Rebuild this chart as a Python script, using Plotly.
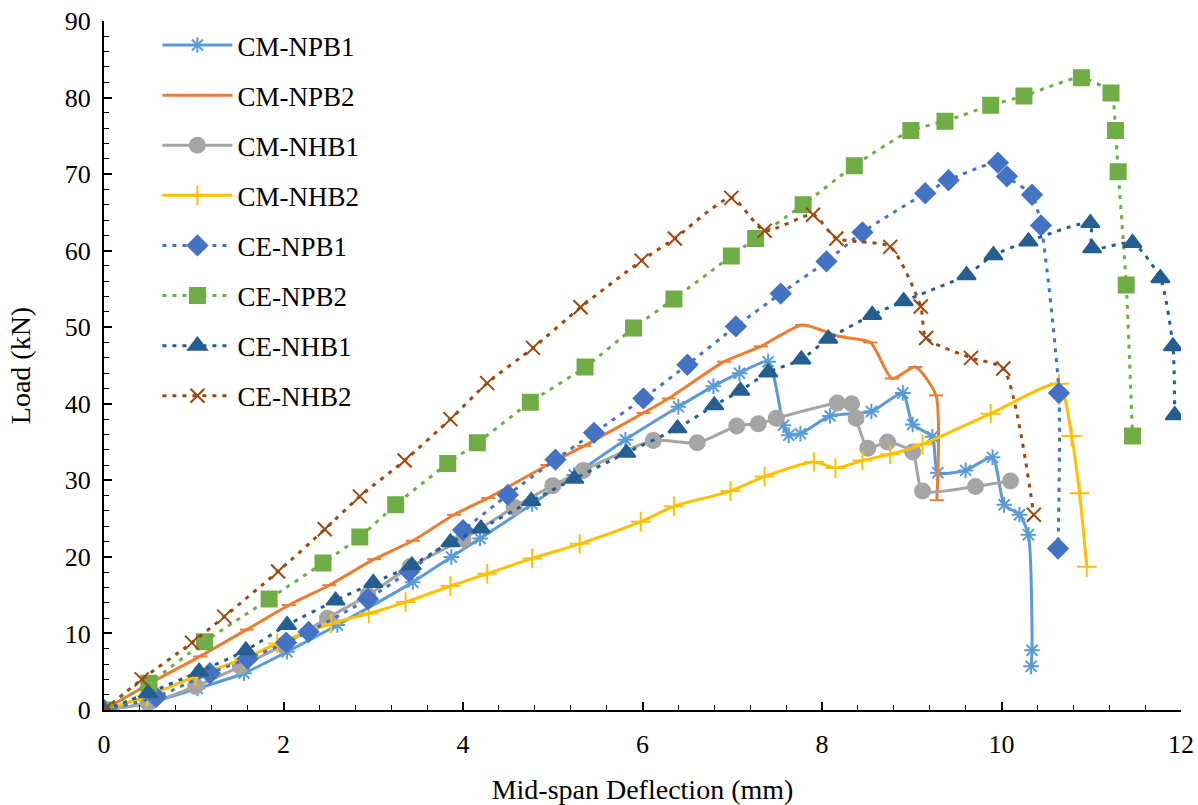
import plotly.graph_objects as go

# ---- data (deflection mm, load kN) ----
cm_npb1_x = [0, 0.50, 1.04, 1.56, 2.04, 2.60, 3.44, 3.87, 4.19, 4.77, 5.24, 5.81, 6.40, 6.79, 7.08, 7.40, 7.57, 7.63, 7.76, 8.09, 8.55, 8.90, 9.01, 9.23, 9.29, 9.60, 9.90, 10.03, 10.20, 10.30, 10.34, 10.33]
cm_npb1_y = [0, 0.9, 2.8, 4.8, 7.6, 11.1, 16.7, 20.0, 22.4, 26.9, 30.7, 35.3, 39.6, 42.3, 44.0, 45.5, 37.2, 35.9, 36.1, 38.4, 39.0, 41.4, 37.3, 35.7, 31.0, 31.3, 33.0, 26.8, 25.5, 22.9, 7.8, 5.7]

cm_npb2_x = [0, 0.50, 1.07, 1.59, 2.06, 2.51, 3.01, 3.44, 3.90, 4.28, 4.94, 5.35, 6.01, 6.29, 6.91, 7.32, 7.78, 8.19, 8.54, 8.78, 9.04, 9.27, 9.28]
cm_npb2_y = [0, 3.4, 7.0, 10.5, 13.7, 16.3, 19.7, 22.1, 25.5, 27.7, 32.0, 34.5, 38.8, 40.7, 45.5, 47.5, 50.3, 48.8, 48.0, 43.3, 44.8, 41.1, 27.4]

cm_nhb1_x = [0, 0.49, 1.02, 1.52, 2.00, 2.49, 2.94, 3.41, 4.00, 4.57, 5.00, 5.34, 6.12, 6.61, 7.05, 7.29, 7.49, 8.17, 8.33, 8.38, 8.51, 8.73, 9.01, 9.12, 9.71, 10.10]
cm_nhb1_y = [0, 0.9, 3.1, 5.7, 8.5, 12.0, 15.0, 18.7, 22.3, 26.5, 29.3, 31.3, 35.2, 34.9, 37.1, 37.4, 38.1, 40.1, 40.0, 38.1, 34.2, 35.0, 33.7, 28.6, 29.2, 29.9]

cm_nhb2_x = [0, 0.48, 1.02, 1.56, 1.93, 2.53, 2.95, 3.36, 3.86, 4.27, 4.77, 5.30, 5.98, 6.35, 6.98, 7.36, 7.91, 8.15, 8.45, 8.76, 9.12, 9.88, 10.64, 10.78, 10.87, 10.95]
cm_nhb2_y = [0, 1.8, 4.4, 6.7, 8.7, 11.3, 12.6, 14.1, 16.2, 17.8, 19.8, 21.7, 24.6, 26.6, 28.6, 30.5, 32.4, 31.6, 32.6, 33.4, 34.7, 38.7, 42.6, 35.8, 28.3, 18.7]

ce_npb1_x = [0, 0.58, 1.18, 1.60, 2.03, 2.28, 2.94, 3.40, 4.00, 4.50, 5.03, 5.46, 6.01, 6.50, 7.04, 7.54, 8.05, 8.45, 9.15, 9.41, 9.96, 10.06, 10.34, 10.44, 10.64, 10.63]
ce_npb1_y = [0, 1.7, 4.8, 6.7, 8.8, 10.2, 14.5, 18.1, 23.5, 28.1, 32.7, 36.2, 40.7, 45.1, 50.1, 54.4, 58.6, 62.4, 67.5, 69.2, 71.5, 69.7, 67.3, 63.3, 41.4, 21.1]

ce_npb2_x = [0, 0.50, 1.12, 1.84, 2.44, 2.85, 3.25, 3.83, 4.16, 4.75, 5.36, 5.90, 6.35, 6.99, 7.26, 7.79, 8.36, 8.99, 9.37, 9.88, 10.25, 10.89, 11.22, 11.27, 11.30, 11.39, 11.46]
ce_npb2_y = [0, 3.5, 8.9, 14.5, 19.2, 22.6, 26.8, 32.2, 34.9, 40.2, 44.8, 49.9, 53.7, 59.3, 61.6, 66.0, 71.1, 75.7, 76.9, 79.0, 80.2, 82.6, 80.6, 75.7, 70.3, 55.5, 35.8]

ce_nhb1_x = [0, 0.49, 1.06, 1.58, 2.04, 2.58, 3.00, 3.43, 3.86, 4.20, 4.76, 5.24, 5.82, 6.39, 6.80, 7.09, 7.40, 7.77, 8.07, 8.56, 8.91, 9.61, 9.91, 10.30, 10.99, 11.01, 11.46, 11.77, 11.91, 11.93]
ce_nhb1_y = [0, 2.2, 5.0, 7.8, 11.1, 14.3, 16.6, 18.9, 21.9, 23.7, 27.3, 30.2, 33.6, 36.8, 39.8, 41.7, 44.1, 45.8, 48.5, 51.6, 53.4, 56.8, 59.4, 61.2, 63.6, 60.3, 61.0, 56.4, 47.5, 38.5]

ce_nhb2_x = [0, 0.42, 0.98, 1.34, 1.94, 2.46, 2.85, 3.35, 3.86, 4.27, 4.78, 5.31, 5.99, 6.36, 6.99, 7.36, 7.90, 8.16, 8.76, 9.10, 9.16, 9.66, 10.02, 10.36]
ce_nhb2_y = [0, 4.0, 8.8, 12.2, 18.1, 23.6, 27.9, 32.6, 38.0, 42.7, 47.3, 52.6, 58.7, 61.6, 66.9, 62.6, 64.7, 61.6, 60.5, 52.7, 48.6, 46.0, 44.6, 25.5]

DOT = "4px,6px"
series = [
    ("CM-NPB1", cm_npb1_x, cm_npb1_y, "#5B9BD5", "solid", "asterisk-open", 13),
    ("CM-NPB2", cm_npb2_x, cm_npb2_y, "#ED7D31", "solid", "line-ew-open", 10),
    ("CM-NHB1", cm_nhb1_x, cm_nhb1_y, "#A5A5A5", "solid", "circle", 15),
    ("CM-NHB2", cm_nhb2_x, cm_nhb2_y, "#FFC000", "solid", "cross-thin-open", 14),
    ("CE-NPB1", ce_npb1_x, ce_npb1_y, "#4472C4", DOT, "diamond", 15),
    ("CE-NPB2", ce_npb2_x, ce_npb2_y, "#70AD47", DOT, "square", 15),
    ("CE-NHB1", ce_nhb1_x, ce_nhb1_y, "#255E91", DOT, "triangle-up", 16),
    ("CE-NHB2", ce_nhb2_x, ce_nhb2_y, "#9E480E", DOT, "x-thin-open", 14),
]

fig = go.Figure()
for i, (name, xs, ys, col, dash, sym, sz) in enumerate(series):
    fig.add_trace(go.Scatter(
        x=xs, y=ys, name=name, mode="lines+markers", legendgroup=f"g{i}",
        line=dict(color=col, width=3, dash=dash, shape="spline", smoothing=0.6),
        marker=dict(symbol=sym, size=sz, color=col, line=dict(color=col, width=2)),
    ))

font_family = "'Liberation Serif', 'Times New Roman', Times, 'DejaVu Serif', serif"
fig.update_layout(
    width=1198, height=805,
    paper_bgcolor="white", plot_bgcolor="white",
    margin=dict(l=104, r=17, t=21, b=95, autoexpand=False),
    font=dict(family=font_family, size=26, color="black"),
    showlegend=True,
    legend=dict(x=0.0496, y=1.0, xanchor="left", yanchor="top",
                font=dict(family=font_family, size=27, color="black"),
                itemwidth=70, tracegroupgap=12, bgcolor="rgba(0,0,0,0)"),
)
fig.update_xaxes(
    range=[0, 12], dtick=2, tick0=0, showgrid=False, zeroline=False,
    showline=True, linecolor="black", linewidth=2, automargin=False,
    ticks="inside", ticklen=8, tickwidth=1.5, tickcolor="black",
    minor=dict(dtick=0.4, ticks="inside", ticklen=5, tickwidth=1, tickcolor="black"),
    tickfont=dict(family=font_family, size=26), ticklabeloverflow="allow",
    ticklabelstandoff=10,
    title=dict(text="Mid-span Deflection (mm)", font=dict(family=font_family, size=28), standoff=31),
)
fig.update_yaxes(
    range=[0, 90], dtick=10, tick0=0, showgrid=False, zeroline=False,
    showline=True, linecolor="black", linewidth=2, automargin=False,
    ticks="inside", ticklen=8, tickwidth=1.5, tickcolor="black",
    minor=dict(dtick=2, ticks="inside", ticklen=5, tickwidth=1, tickcolor="black"),
    tickfont=dict(family=font_family, size=26), ticklabeloverflow="allow",
    ticklabelstandoff=6,
    title=dict(text="Load (kN)", font=dict(family=font_family, size=28), standoff=26),
)

fig.write_html(
    "out.html",
    config={"displayModeBar": False},
    post_script="document.body.style.margin='0';document.body.style.overflow='hidden';",
)
